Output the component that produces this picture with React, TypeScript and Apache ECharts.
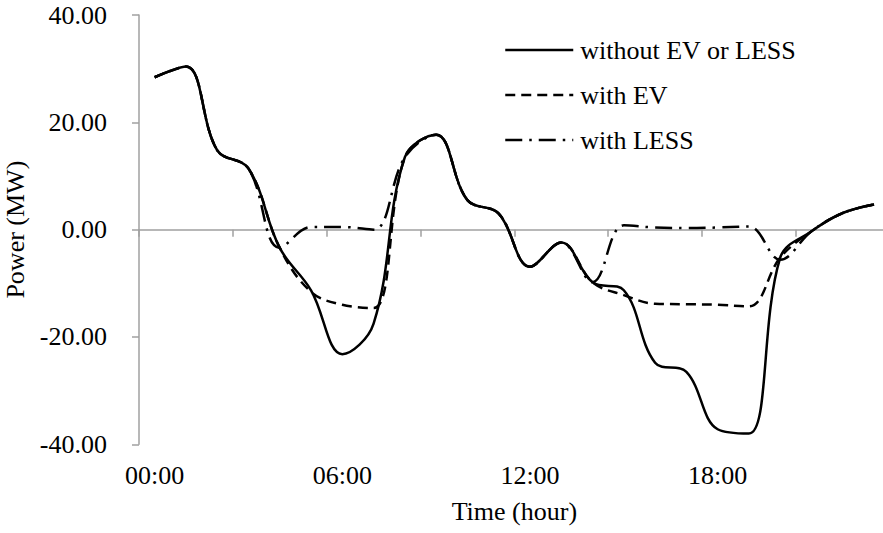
import React, { useEffect, useRef } from "react";
import * as echarts from "echarts";

const hours: string[] = [
  "00:00", "01:00", "02:00", "03:00", "04:00", "05:00", "06:00", "07:00",
  "08:00", "09:00", "10:00", "11:00", "12:00", "13:00", "14:00", "15:00",
  "16:00", "17:00", "18:00", "19:00", "20:00", "21:00", "22:00", "23:00",
];

const withoutEvOrLess: number[] = [
  28.4, 30.4, 14.8, 11.4, -3.4, -11.3, -23.2, -17.5, 13.5, 17.7, 5.5, 3.0,
  -6.9, -2.4, -9.8, -11.3, -24.8, -26.5, -37.2, -38.0, -5.2, -0.3, 3.1, 4.7,
];

const withEv: number[] = [
  28.4, 30.4, 14.8, 11.4, -3.4, -11.6, -14.0, -14.6, 13.5, 17.7, 5.5, 3.0,
  -6.9, -2.4, -9.8, -12.2, -13.8, -13.9, -14.0, -14.3, -5.2, -0.3, 3.1, 4.7,
];

const withLess: number[] = [
  28.4, 30.4, 14.8, 11.4, -3.4, 0.5, 0.5, 0.0, 13.5, 17.7, 5.5, 3.0,
  -6.9, -2.4, -9.8, 0.8, 0.4, 0.3, 0.4, 0.6, -5.6, -0.3, 3.1, 4.7,
];

const seriesNames: string[] = ["without EV or LESS", "with EV", "with LESS"];
const yTicks: number[] = [-40, -20, 0, 20, 40];

const FONT = "'Liberation Serif', 'Times New Roman', serif";
const AXIS_COLOR = "#a0a0a0";

export default function App() {
  const ref = useRef<HTMLDivElement>(null);

  useEffect(() => {
    if (!ref.current) return;
    const chart = echarts.init(ref.current, undefined, { renderer: "svg" });
    const smooth = 0.38;
    chart.setOption({
      animation: false,
      backgroundColor: "#ffffff",
      textStyle: { fontFamily: FONT },
      grid: {
        left: 139,
        top: 15,
        right: -6.7,
        bottom: 88.7,
        containLabel: false,
        outerBoundsMode: "none",
      },
      legend: {
        orient: "vertical",
        left: 504,
        top: 37,
        padding: 0,
        itemWidth: 68,
        itemHeight: 20,
        itemGap: 19,
        data: seriesNames,
        lineStyle: { width: 2.5 },
        itemStyle: { opacity: 0, color: "rgba(0,0,0,0)", borderWidth: 0 },
        textStyle: {
          fontFamily: FONT,
          fontSize: 26,
          color: "#000",
          lineHeight: 26,
          padding: [0, 0, 0, 2],
        },
      },
      xAxis: [
        {
          type: "category",
          data: hours,
          boundaryGap: true,
          axisLine: { show: true, onZero: true, lineStyle: { color: AXIS_COLOR, width: 1.5 } },
          axisTick: { show: true, interval: 2, length: 7, inside: false, lineStyle: { color: AXIS_COLOR, width: 1.5 } },
          axisLabel: { show: false },
          splitLine: { show: false },
        },
        {
          type: "category",
          data: hours,
          boundaryGap: true,
          position: "bottom",
          axisLine: { show: false, onZero: false },
          axisTick: { show: false },
          axisLabel: {
            show: true,
            interval: 5,
            margin: 18,
            fontFamily: FONT,
            fontSize: 26,
            color: "#000",
          },
          splitLine: { show: false },
          name: "Time (hour)",
          nameLocation: "middle",
          nameGap: 54,
          nameTextStyle: { fontFamily: FONT, fontSize: 26, color: "#000" },
        },
      ],
      yAxis: {
        type: "value",
        min: -40,
        max: 40,
        interval: 20,
        axisLine: { show: true, lineStyle: { color: AXIS_COLOR, width: 1.5 } },
        axisTick: { show: true, length: 7, inside: false, lineStyle: { color: AXIS_COLOR, width: 1.5 } },
        splitLine: { show: false },
        axisLabel: {
          margin: 32,
          fontFamily: FONT,
          fontSize: 26,
          color: "#000",
          formatter: (v: number) => (yTicks.includes(v) ? v.toFixed(2) : ""),
        },
        name: "Power (MW)",
        nameLocation: "middle",
        nameRotate: 90,
        nameGap: 91,
        nameTextStyle: { fontFamily: FONT, fontSize: 26, color: "#000" },
      },
      series: [
        {
          name: seriesNames[0],
          type: "line",
          data: withoutEvOrLess,
          xAxisIndex: 0,
          smooth,
          symbol: "none",
          lineStyle: { color: "#000", width: 2.5, type: "solid" },
          itemStyle: { color: "#000" },
          z: 3,
        },
        {
          name: seriesNames[1],
          type: "line",
          data: withEv,
          xAxisIndex: 0,
          smooth,
          symbol: "none",
          lineStyle: { color: "#000", width: 2.5, type: [10, 6] },
          itemStyle: { color: "#000" },
          z: 2,
        },
        {
          name: seriesNames[2],
          type: "line",
          data: withLess,
          xAxisIndex: 0,
          smooth,
          symbol: "none",
          lineStyle: { color: "#000", width: 2.5, type: [17, 7, 2.5, 7] },
          itemStyle: { color: "#000" },
          z: 2,
        },
      ],
    });
    return () => chart.dispose();
  }, []);

  return (
    <div
      ref={ref}
      style={{ position: "fixed", left: 0, top: 0, width: 883, height: 533 }}
    />
  );
}
